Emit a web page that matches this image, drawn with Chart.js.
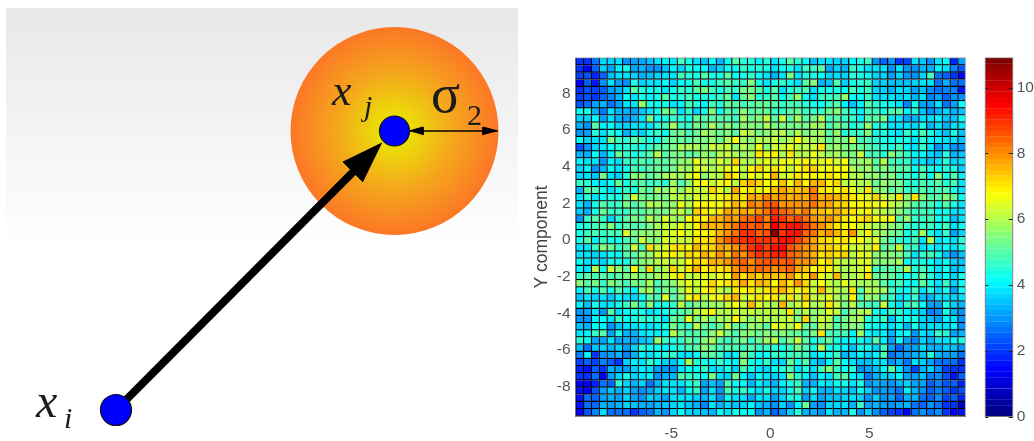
<!DOCTYPE html>
<html><head><meta charset="utf-8">
<style>html,body{margin:0;padding:0;background:#fff;width:1034px;height:441px;overflow:hidden}
canvas{position:absolute;top:0;display:block}</style>
<script src="https://cdn.jsdelivr.net/npm/chart.js@4"></script>
</head><body>
<canvas id="sketch" width="520" height="441" style="left:0"></canvas>
<canvas id="heat" width="450" height="441" style="left:520px"></canvas>
<canvas id="bar" width="59" height="441" style="left:975px"></canvas>
<script>
// ---- heat map values: one list per row, top row first
const row00=[1.9,2.0,2.6,3.6,3.6,3.8,3.0,3.2,3.2,3.5,3.8,4.0,3.9,4.8,4.3,3.9,3.5,4.1,3.3,4.2,5.1,4.5,4.5,4.0,4.5,3.9,4.3,5.0,4.5,4.1,3.5,3.9,3.9,3.6,3.7,4.0,4.4,4.6,2.9,2.5,2.9,2.0,2.2,3.9,3.5,2.9,3.9,4.1,1.8,3.2];
const row01=[2.0,1.4,2.5,3.7,3.2,4.0,4.3,3.2,3.3,2.9,2.9,3.5,4.0,3.6,4.3,4.1,4.1,3.4,3.6,4.1,4.1,4.6,4.3,4.5,4.4,3.9,4.2,4.3,3.9,4.6,4.6,5.0,3.2,3.6,3.4,4.6,4.3,3.9,3.8,3.9,2.9,3.9,3.0,2.9,3.4,3.4,4.0,3.9,2.8,2.3];
const row02=[2.2,2.3,1.8,2.5,3.5,3.8,3.9,3.6,3.4,3.5,3.6,3.9,3.8,4.8,4.5,4.4,5.0,4.3,4.3,5.0,4.2,4.4,4.6,4.2,3.9,3.4,3.9,5.4,3.9,4.3,4.3,4.2,3.6,3.9,3.6,4.5,4.4,4.2,3.7,3.6,3.2,3.7,2.9,3.0,3.6,4.8,2.6,2.4,1.9,1.5];
const row03=[1.4,2.4,1.6,3.0,3.9,3.2,3.0,4.3,3.7,3.9,3.9,4.1,3.6,4.2,4.4,4.8,4.3,4.3,4.7,5.0,4.7,4.7,5.6,4.4,3.9,4.3,4.7,4.1,3.8,5.0,5.5,3.4,3.5,5.0,3.7,4.4,4.5,4.7,3.6,3.7,3.5,3.5,3.5,3.6,3.9,3.9,2.7,3.4,2.6,2.7];
const row04=[1.9,2.3,2.2,2.5,3.1,3.4,3.8,5.1,4.5,4.2,4.4,3.9,4.3,4.6,4.5,5.0,5.3,4.8,4.3,4.9,4.6,5.3,5.3,5.0,4.4,5.0,3.9,4.5,4.7,4.9,3.9,4.3,4.3,4.4,4.2,4.9,4.3,4.6,3.6,3.7,3.4,3.8,3.6,3.2,3.5,3.0,2.7,2.8,2.8,1.6];
const row05=[2.2,2.3,1.9,2.5,2.8,3.3,4.2,3.8,4.3,4.0,4.4,5.0,4.4,4.5,4.9,4.3,4.5,4.3,4.6,5.2,3.9,5.2,5.6,4.5,4.7,5.1,4.1,4.9,5.7,4.2,3.8,4.6,4.6,4.8,5.7,4.2,4.2,4.6,3.8,3.8,3.8,3.6,3.8,3.3,3.8,2.8,3.2,2.4,2.9,3.0];
const row06=[2.3,2.7,3.1,3.3,2.7,3.2,3.9,3.9,5.7,4.4,4.1,4.3,3.9,4.0,4.8,4.5,4.0,4.8,4.5,5.2,5.0,4.8,5.0,5.2,5.2,5.0,4.7,4.8,4.8,4.5,4.4,4.1,4.7,5.0,4.0,3.5,4.0,5.0,4.5,4.4,4.2,3.9,2.8,4.3,3.2,3.1,3.8,2.7,3.2,4.2];
const row07=[4.1,4.4,3.4,2.6,3.8,3.3,3.4,3.1,3.5,3.9,4.3,5.3,5.0,3.8,4.6,3.7,4.4,5.6,4.2,5.0,4.8,5.5,5.0,5.2,5.2,4.7,4.6,5.1,5.2,4.7,4.6,4.7,5.2,5.5,4.8,4.5,4.0,4.8,4.6,4.4,4.8,5.0,4.0,4.5,3.5,2.9,3.3,3.6,3.3,3.5];
const row08=[3.7,3.6,4.2,3.2,3.9,3.4,3.1,3.3,3.9,5.3,4.2,4.4,4.7,4.5,4.4,5.2,5.0,5.0,5.0,5.0,4.7,5.8,5.2,5.6,6.2,5.0,6.2,5.1,5.9,5.0,5.3,5.8,4.9,5.0,4.7,4.6,4.0,5.0,5.0,5.4,3.8,3.9,3.1,3.4,3.8,3.8,4.0,3.5,3.5,4.1];
const row09=[3.4,3.0,5.0,4.0,4.1,3.6,3.6,3.9,3.8,3.9,4.5,4.9,5.9,4.6,4.6,5.3,5.2,5.9,5.2,5.5,5.2,5.6,5.5,5.4,5.8,5.3,5.4,5.4,5.4,5.3,5.9,5.7,4.8,5.3,5.0,4.4,4.6,5.7,4.4,4.5,3.8,3.9,3.9,3.6,4.3,3.4,3.8,3.4,3.8,3.8];
const row10=[3.0,3.2,4.5,3.9,4.5,4.2,3.3,3.8,3.7,4.3,4.6,4.1,5.2,5.3,4.9,5.2,5.8,5.5,5.2,5.5,5.0,6.2,5.8,5.4,5.6,5.8,6.0,5.4,6.0,5.3,5.7,5.9,5.0,5.7,4.5,4.6,4.6,5.6,4.4,4.4,4.0,3.9,4.7,4.1,4.8,4.4,3.9,3.5,4.3,3.5];
const row11=[4.1,3.7,3.9,3.9,5.3,4.6,4.5,5.0,4.9,4.3,4.4,5.0,5.2,5.2,5.0,5.3,5.4,5.7,5.2,5.8,6.8,5.7,5.6,6.0,5.8,6.3,5.7,6.0,6.8,6.0,5.8,5.8,5.2,5.6,5.4,6.2,4.9,4.8,4.5,4.3,4.2,4.3,4.4,3.8,4.5,4.0,4.0,3.9,3.9,3.5];
const row12=[2.3,2.9,3.7,3.8,4.1,4.4,4.5,4.5,4.4,4.6,5.0,5.0,5.3,5.9,5.9,5.9,5.5,6.2,6.0,6.2,5.6,6.0,5.7,6.6,5.6,6.2,6.3,6.6,6.1,6.0,6.3,7.0,5.6,5.7,5.4,5.4,5.2,5.0,4.7,4.5,4.4,4.8,4.0,3.8,4.7,3.8,2.9,3.7,3.0,2.9];
const row13=[3.3,3.4,4.2,3.4,4.0,5.2,4.6,4.3,4.7,5.0,6.1,5.0,5.4,5.3,5.0,5.2,5.7,5.4,6.0,6.2,5.9,5.7,5.8,7.0,6.5,6.9,5.9,7.0,6.1,6.1,6.5,6.1,5.7,5.8,5.6,5.3,6.3,4.9,4.8,4.5,5.5,5.0,4.7,4.0,4.2,3.7,3.5,4.5,3.4,3.5];
const row14=[4.0,3.8,3.9,2.9,4.0,3.8,4.6,4.7,5.1,4.6,5.2,5.0,5.3,5.5,5.7,6.6,6.0,5.9,6.4,6.0,7.2,6.1,5.8,6.2,6.5,6.2,6.6,6.5,6.6,6.9,6.5,6.4,6.8,6.2,6.7,5.6,5.7,5.8,5.0,6.0,4.9,4.7,4.7,3.9,3.8,3.5,3.8,4.5,3.7,3.8];
const row15=[3.6,4.0,3.0,3.4,4.2,3.8,4.4,4.8,4.6,5.0,5.2,5.0,5.4,5.8,5.7,6.4,6.2,5.9,6.2,6.6,6.7,6.0,6.9,7.3,6.6,7.1,6.8,6.2,6.7,7.1,7.2,6.6,6.8,6.7,6.8,6.1,5.6,5.8,5.2,5.5,5.2,5.0,5.1,4.2,4.8,4.3,4.1,4.5,4.3,3.7];
const row16=[3.6,3.9,3.5,5.3,3.9,3.7,4.5,5.5,5.5,5.0,5.3,5.9,6.0,5.7,6.2,6.7,5.6,6.0,6.1,7.2,6.9,6.1,6.7,6.4,6.8,7.6,6.2,6.6,7.1,6.8,6.9,6.8,7.1,6.8,6.8,5.8,6.0,5.6,5.7,5.3,5.6,4.9,4.6,4.3,5.0,4.2,5.5,4.3,5.0,4.0];
const row17=[4.7,4.5,4.0,3.9,4.1,5.2,4.3,4.9,5.0,4.6,4.9,4.5,5.8,4.9,5.5,6.6,6.8,6.2,6.6,6.9,6.1,7.3,7.6,7.2,6.7,6.9,7.4,6.8,7.5,6.9,7.5,7.5,6.9,7.3,6.0,6.3,5.9,6.0,5.2,5.7,5.3,5.4,4.7,4.5,4.8,4.7,5.0,4.5,4.8,3.9];
const row18=[3.3,5.0,4.9,4.4,3.9,4.3,4.7,4.4,5.3,5.0,5.9,5.6,6.1,5.5,6.3,6.2,6.2,7.2,6.5,6.1,7.8,6.8,7.0,6.5,6.7,7.4,7.7,7.4,7.4,7.5,8.1,7.0,6.9,6.7,7.0,6.6,6.1,7.0,5.6,5.5,5.0,5.3,4.6,4.7,5.0,4.6,4.8,5.0,4.3,3.9];
const row19=[3.9,4.5,3.9,4.2,4.5,4.3,5.0,6.3,5.4,5.2,5.3,5.3,6.0,6.1,5.8,6.4,6.2,6.5,6.8,7.1,7.2,7.0,7.8,7.5,8.1,7.8,7.9,7.6,7.7,7.5,8.2,7.5,7.7,7.6,7.3,7.1,6.8,6.4,7.2,6.2,6.0,7.0,5.5,7.1,5.6,5.0,5.0,5.6,5.2,4.1];
const row20=[3.9,3.4,4.3,5.1,4.7,4.7,5.4,4.9,5.3,6.1,5.9,5.6,5.7,6.5,6.0,6.7,6.9,6.8,6.8,7.0,7.6,7.3,8.3,7.9,8.4,8.6,8.0,8.0,8.0,7.9,8.2,7.8,7.8,7.3,7.2,6.8,6.9,6.9,6.6,6.8,6.3,5.9,5.5,5.0,4.8,4.9,4.3,5.0,4.4,3.9];
const row21=[3.6,3.3,4.4,5.2,4.6,4.6,4.7,5.0,5.0,5.3,5.4,5.3,5.9,6.2,5.5,7.2,7.0,6.5,7.1,7.7,7.5,7.8,7.5,7.9,8.3,9.0,8.5,8.2,7.8,8.2,7.6,7.4,7.2,7.5,7.3,7.0,6.6,6.9,6.3,6.0,5.9,5.5,5.0,4.6,4.8,4.7,4.1,4.4,3.9,3.8];
const row22=[2.9,4.7,5.0,4.7,3.7,4.5,5.0,5.4,5.2,6.1,5.6,6.4,5.9,5.7,6.8,7.0,6.9,7.5,7.6,7.9,7.7,8.3,8.5,8.8,8.1,9.1,9.0,8.5,8.7,8.3,7.9,7.6,8.0,7.4,7.1,6.8,7.0,7.2,6.7,6.6,6.9,5.0,5.7,4.6,4.7,4.8,4.2,4.4,3.5,3.9];
const row23=[4.3,4.5,4.8,5.0,5.5,4.6,5.0,4.9,5.1,5.4,5.9,6.2,6.0,6.6,6.3,6.9,7.5,7.6,7.5,8.0,8.2,8.8,8.5,8.6,8.3,9.6,9.0,9.2,9.2,8.7,8.3,7.9,7.4,7.1,6.7,6.8,6.4,6.2,5.9,5.8,5.5,5.3,4.7,4.5,4.7,4.7,4.3,4.8,3.8,4.1];
const row24=[4.4,4.6,4.8,4.6,4.8,4.9,6.4,5.4,5.5,5.6,5.7,6.2,6.4,6.7,6.2,6.9,6.8,7.0,7.6,7.9,8.2,9.0,9.0,8.5,8.6,10.9,9.0,9.2,9.2,8.5,8.3,7.6,7.9,7.6,7.1,8.0,6.2,6.9,5.9,5.7,5.3,5.2,4.3,4.6,5.8,4.3,3.9,4.6,3.2,3.7];
const row25=[4.3,5.1,4.0,4.6,4.4,4.4,4.8,5.1,6.2,5.6,5.5,6.4,6.3,6.2,6.3,7.0,7.0,7.2,7.9,8.4,8.7,9.0,9.1,8.9,8.9,9.0,9.3,9.2,8.8,8.2,7.8,7.3,7.1,6.9,7.0,6.8,6.7,6.2,6.4,5.3,4.9,4.7,4.4,4.9,3.9,6.0,3.9,4.2,3.8,4.5];
const row26=[3.8,3.9,4.6,5.5,5.2,4.6,5.0,6.2,4.9,7.0,6.2,6.4,7.1,7.0,6.7,7.5,7.0,7.2,7.8,7.6,8.0,8.5,8.9,9.3,8.7,9.3,9.5,8.6,8.3,7.9,7.7,7.3,7.2,7.0,6.9,6.2,6.4,6.2,6.9,5.0,5.3,6.2,4.6,4.7,3.9,4.2,3.8,4.1,3.9,4.4];
const row27=[3.8,3.9,3.7,3.8,4.2,4.2,5.0,5.1,5.6,5.7,6.4,6.5,6.9,6.4,7.2,7.0,7.5,7.3,7.9,7.4,8.3,8.0,8.6,9.0,8.7,9.1,9.1,8.5,8.3,8.0,7.5,7.0,7.2,7.0,7.2,6.1,6.5,6.4,5.5,5.6,5.6,5.3,4.8,3.9,4.6,4.8,4.3,3.5,3.0,3.5];
const row28=[4.2,3.8,3.9,3.6,4.3,4.4,4.4,5.1,5.5,5.7,6.1,6.2,6.0,6.2,6.8,7.2,7.0,7.5,7.6,8.0,8.2,8.5,8.0,8.4,8.6,8.6,8.4,8.6,8.0,7.9,7.7,6.8,7.2,6.2,6.0,6.1,6.4,6.4,5.5,5.5,5.6,5.9,4.2,4.4,4.4,4.1,3.8,4.2,3.6,3.5];
const row29=[4.0,3.8,6.0,4.3,6.2,5.6,5.0,6.9,5.4,7.2,5.5,6.1,7.3,6.2,7.1,7.5,6.9,7.3,7.0,7.3,8.0,8.3,8.1,8.5,8.3,8.0,8.2,8.5,7.8,7.4,6.8,7.0,6.9,6.3,5.9,6.1,6.2,6.8,4.6,5.0,5.1,5.0,6.1,4.5,4.8,4.3,3.9,4.3,3.5,3.7];
const row30=[4.6,5.0,4.8,5.1,4.8,5.1,5.3,5.7,5.3,5.5,5.9,6.1,6.5,7.0,6.0,6.2,6.5,6.3,6.5,6.6,8.0,7.1,7.5,7.3,7.6,7.4,7.4,7.9,7.1,7.0,7.9,6.5,6.3,7.5,5.9,5.8,6.2,7.0,5.2,5.3,5.2,4.6,4.2,4.5,5.2,4.5,3.8,4.2,3.7,4.4];
const row31=[5.5,5.0,5.3,4.6,5.5,5.2,4.9,5.4,5.2,5.8,4.8,5.3,5.5,6.3,6.5,6.3,6.5,7.3,6.8,7.0,7.3,7.7,7.0,7.6,7.4,6.8,7.5,7.0,8.0,7.2,6.2,6.8,6.2,5.9,6.6,6.0,5.8,5.8,5.7,5.0,4.5,4.8,4.1,4.2,5.2,4.3,3.8,4.6,3.7,4.2];
const row32=[4.0,4.8,4.4,5.0,4.4,5.0,4.5,4.0,5.5,5.8,4.9,5.4,5.2,5.8,6.5,6.0,6.8,7.0,6.2,5.9,7.0,6.8,7.0,6.4,7.0,7.2,7.6,7.1,6.5,7.1,6.3,7.5,6.2,6.0,5.9,7.0,5.1,6.0,5.9,5.9,4.8,4.4,4.1,4.8,3.8,4.5,3.7,4.4,3.2,4.2];
const row33=[3.5,3.8,3.6,3.9,3.5,4.0,3.9,3.7,4.2,5.0,4.9,6.4,5.0,5.6,6.5,7.0,6.1,6.5,6.7,7.3,7.5,6.2,6.5,7.0,6.8,7.1,6.2,7.1,6.2,7.3,6.3,6.3,6.5,5.9,5.7,6.9,4.9,5.7,5.5,4.8,4.6,3.9,4.0,4.6,3.5,3.3,3.9,3.9,3.6,3.9];
const row34=[4.0,3.5,4.3,3.9,3.8,4.3,4.7,5.3,4.5,5.5,4.3,4.4,4.7,6.1,5.0,5.3,5.6,5.7,5.7,6.3,6.7,6.3,7.5,6.4,6.0,5.9,7.5,5.9,6.2,6.9,5.8,6.1,7.0,6.2,5.3,6.0,5.0,4.9,4.7,6.3,4.3,3.9,4.6,4.8,4.2,3.1,3.2,4.3,3.6,3.4];
const row35=[2.9,3.2,3.8,3.0,5.0,3.8,4.1,4.3,4.3,3.9,4.0,4.4,4.6,5.1,5.2,6.1,6.4,6.9,5.9,6.0,6.2,6.1,6.2,5.9,6.1,6.1,5.9,7.0,5.6,6.0,5.6,5.9,6.4,6.2,4.8,5.5,5.8,6.0,4.3,4.0,4.6,4.5,4.0,3.9,3.6,2.8,3.0,4.3,3.3,2.9];
const row36=[2.9,2.9,4.0,4.2,3.8,4.6,4.2,4.3,4.7,4.5,4.5,3.9,5.2,5.0,6.5,5.3,5.8,5.3,5.9,5.8,6.9,6.1,5.5,6.0,5.8,5.8,6.0,6.2,5.4,7.2,5.5,6.2,6.0,4.9,5.4,5.7,5.8,4.5,4.3,4.7,3.5,4.3,4.2,4.4,3.7,3.5,3.2,4.0,3.9,3.0];
const row37=[3.5,3.3,4.1,4.0,3.0,3.5,3.9,3.8,4.0,3.9,4.0,4.3,5.4,4.8,4.7,6.0,5.2,4.9,5.2,6.0,5.2,5.0,5.7,5.5,5.0,6.5,6.2,5.9,6.8,5.4,5.0,6.0,5.7,5.1,5.3,5.5,5.3,4.3,4.2,4.0,3.9,4.1,3.3,4.3,3.6,3.9,3.9,3.8,4.0,3.0];
const row38=[3.9,4.0,4.6,5.0,3.2,4.3,3.4,3.4,3.9,4.0,4.0,4.2,6.0,5.2,4.9,5.0,5.0,5.6,6.3,5.3,4.8,5.5,5.5,5.2,5.5,5.3,5.5,5.2,5.2,4.8,5.3,7.0,4.8,4.8,4.9,4.0,5.7,4.2,3.9,4.0,3.4,4.0,4.2,3.0,3.9,3.6,4.6,4.5,3.2,3.4];
const row39=[4.5,4.1,3.2,3.1,3.9,3.2,3.4,3.1,3.5,3.7,5.7,4.7,4.5,4.7,5.2,4.9,5.5,5.9,5.0,4.6,5.0,5.4,4.6,5.2,5.7,6.1,4.8,5.3,6.2,5.1,4.3,4.6,5.2,4.4,4.0,4.2,4.3,3.8,5.0,4.0,3.2,4.1,3.2,2.8,3.7,3.3,3.8,3.9,4.0,4.4];
const row40=[3.5,2.7,3.5,3.6,3.4,3.6,3.2,3.6,4.5,4.2,4.1,4.0,4.3,4.5,4.8,5.0,5.6,5.2,4.7,5.0,4.8,4.7,5.1,4.6,4.7,4.5,4.3,4.7,5.4,4.9,4.4,6.1,4.3,4.3,4.0,3.5,4.4,4.2,3.7,4.6,3.1,2.4,3.1,3.1,3.8,3.4,3.4,3.7,3.5,3.0];
const row41=[2.8,4.0,1.9,2.9,3.1,3.4,2.8,3.3,4.0,3.9,4.2,4.5,4.6,3.8,3.9,4.2,5.0,5.0,4.7,3.9,4.0,5.3,4.6,4.2,4.2,4.6,4.5,4.7,4.9,4.6,3.9,4.2,4.4,4.6,3.4,3.7,4.0,3.7,4.0,4.9,2.7,2.9,3.0,3.3,3.5,4.5,3.4,3.2,3.2,2.6];
const row42=[2.1,2.4,2.2,2.8,2.5,1.9,3.6,4.0,3.9,4.6,4.1,3.7,3.5,4.0,5.8,4.5,4.4,4.1,4.6,4.2,4.0,5.5,4.3,4.1,4.6,3.9,3.7,5.2,4.4,5.0,3.6,3.4,4.0,5.0,4.1,3.8,3.5,3.5,3.8,3.9,2.9,3.4,2.7,3.8,3.7,3.1,2.7,2.6,2.6,2.0];
const row43=[1.8,1.7,2.4,2.0,3.4,3.1,3.1,3.6,4.0,3.8,3.2,3.0,2.9,3.9,4.2,4.2,4.6,3.8,3.9,4.3,3.6,4.8,4.3,3.9,3.6,4.2,4.5,4.9,3.8,4.5,3.9,4.8,5.6,4.6,4.2,4.5,2.9,3.1,3.5,4.0,5.0,3.9,3.0,2.2,3.3,3.6,2.9,2.2,2.0,1.9];
const row44=[2.0,2.0,2.7,1.3,3.1,3.6,4.4,3.6,3.9,4.0,3.0,3.4,3.4,5.0,4.7,4.5,4.2,5.3,3.8,3.6,5.4,4.0,3.5,4.2,3.8,3.6,3.8,5.5,4.5,4.0,3.5,4.0,3.9,4.8,5.0,4.0,3.8,2.6,3.3,3.6,3.7,4.1,3.2,3.2,3.5,2.8,2.9,2.3,1.7,2.4];
const row45=[1.4,1.3,1.8,2.6,2.5,4.5,3.6,3.3,3.7,2.7,3.3,3.9,3.9,3.8,4.3,4.6,3.2,3.5,3.2,4.9,4.2,4.2,3.3,4.0,3.6,3.4,4.0,4.4,4.7,3.3,3.4,4.0,3.8,4.2,4.3,3.9,4.3,2.9,3.3,3.2,3.0,3.3,3.6,3.1,3.2,2.4,2.8,2.3,2.4,1.8];
const row46=[1.7,1.4,2.3,3.2,3.5,3.3,3.7,3.2,3.0,3.2,3.6,3.8,3.9,3.4,4.2,4.7,3.2,3.9,3.0,4.8,4.4,4.6,4.2,3.9,4.3,3.6,3.7,4.2,4.8,3.7,4.2,3.4,3.4,3.9,3.7,3.5,4.2,3.7,2.9,3.2,3.0,2.7,4.0,3.4,2.9,2.5,2.8,2.4,1.9,2.3];
const row47=[1.6,2.7,2.4,3.2,3.3,3.1,3.6,3.1,2.9,3.6,3.5,3.2,3.8,3.9,3.8,3.7,3.4,3.8,2.9,4.2,3.9,3.9,3.2,3.8,3.8,3.2,3.6,4.4,4.4,3.2,3.9,3.2,3.5,3.5,3.7,3.9,3.6,3.0,3.6,2.9,3.2,2.4,3.4,3.4,2.7,2.4,2.9,2.2,2.4,1.8];
const row48=[1.6,2.6,2.5,3.4,3.1,3.3,3.6,3.5,3.3,3.2,3.3,3.5,3.6,3.8,3.5,3.3,2.8,3.9,3.3,3.7,3.5,3.7,4.0,3.5,3.4,2.9,3.7,3.0,4.0,5.2,3.2,3.0,3.6,3.6,3.9,3.4,4.6,3.2,3.3,3.1,3.0,3.1,3.4,2.7,2.5,3.0,2.7,2.0,1.9,0.8];
const row49=[1.5,2.3,2.8,3.8,2.6,2.7,2.7,2.0,2.4,2.6,3.3,2.9,3.7,4.1,3.6,3.7,3.5,3.3,4.1,3.9,4.3,4.1,4.1,2.9,3.3,2.4,2.9,3.6,4.5,3.3,3.4,3.0,3.9,3.3,3.4,4.4,3.0,3.6,3.0,2.5,2.1,2.0,1.2,2.6,3.0,2.6,3.0,2.0,1.4,1.7];
const gridRows=[row00,row01,row02,row03,row04,row05,row06,row07,row08,row09,row10,row11,row12,row13,row14,row15,row16,row17,row18,row19,row20,row21,row22,row23,row24,row25,row26,row27,row28,row29,row30,row31,row32,row33,row34,row35,row36,row37,row38,row39,row40,row41,row42,row43,row44,row45,row46,row47,row48,row49];

// ---- axes of the heat map and colour bar
const xRange=[-9.83,9.85];
const yRange=[-9.6,9.93];
const xTicks=[-5,0,5];
const yTicks=[-8,-6,-4,-2,0,2,4,6,8];
const barTicks=[0,2,4,6,8,10];
const barMax=10.9;
const barLevels=64;

// ---- schematic on the left, in its own units
const pointI=[{x:116,y:410}];
const pointJ=[{x:394.5,y:131}];
const bigDisc=[{x:394.5,y:131}];
const shaft=[{x:116,y:410},{x:354,y:171}];
const head=[{x:382,y:143},{x:343,y:162},{x:363,y:182}];
const sigmaLine=[{x:409,y:131},{x:497,y:131}];
const sigmaHeadL=[{x:409,y:131},{x:423,y:127},{x:423,y:135}];
const sigmaHeadR=[{x:498,y:131},{x:483,y:127},{x:483,y:135}];
const schematicText=[
 {t:'x',x:332,y:105,f:'italic 44px "Liberation Serif"'},
 {t:'j',x:364,y:116,f:'italic 30px "Liberation Serif"'},
 {t:'σ',x:431,y:112,f:'54px "Liberation Serif"'},
 {t:'2',x:467,y:125,f:'30px "Liberation Serif"'},
 {t:'x',x:36,y:417,f:'italic 48px "Liberation Serif"'},
 {t:'i',x:64,y:428,f:'italic 30px "Liberation Serif"'}
];

function jet(v){
  const lvl=Math.min(barLevels-1,Math.max(0,Math.floor(v/barMax*barLevels)));
  const t=lvl/(barLevels-1);
  const c=a=>Math.round(255*Math.min(1,Math.max(0,1.5-Math.abs(4*t-a))));
  return `rgb(${c(3)},${c(2)},${c(1)})`;
}
Chart.defaults.animation=false;
Chart.defaults.responsive=false;
Chart.defaults.font.family='"Liberation Sans"';

// ---- left schematic
const line=(data,width)=>({data,showLine:true,borderColor:'#000',borderWidth:width,pointRadius:0,tension:0,fill:false});
const shape=(data)=>({data,showLine:true,borderColor:'#000',backgroundColor:'#000',borderWidth:1,pointRadius:0,tension:0,fill:'shape'});
const dot=(data,r)=>({data,showLine:false,pointRadius:r,pointBackgroundColor:'#0000ff',pointBorderColor:'#111',pointBorderWidth:1.2});
new Chart(document.getElementById('sketch'),{
  type:'scatter',
  data:{datasets:[
    dot(pointI,15.5),dot(pointJ,15),
    shape(head),line(shaft,8),
    shape(sigmaHeadL),shape(sigmaHeadR),line(sigmaLine,1.4),
    {data:bigDisc,showLine:false,pointRadius:104,pointBorderWidth:0,clip:false,
     pointBackgroundColor:c=>{
       const p=c.chart.scales, x=p.x.getPixelForValue(bigDisc[0].x), y=p.y.getPixelForValue(bigDisc[0].y);
       if(!isFinite(x)||!isFinite(y)) return '#f4a81c';
       const g=c.chart.ctx.createRadialGradient(x,y,0,x,y,104);
       g.addColorStop(0,'#e8ec00');g.addColorStop(0.2,'#ecd80a');g.addColorStop(0.55,'#f4a81c');g.addColorStop(1,'#fc7726');
       return g;
     }}
  ]},
  options:{layout:{padding:0,autoPadding:false},
    plugins:{legend:{display:false},tooltip:{enabled:false}},
    scales:{x:{display:false,min:0,max:520},y:{display:false,min:0,max:441,reverse:true}}},
  plugins:[{id:'panel',
    beforeDatasetsDraw(ch){
      const {ctx,scales:{x,y}}=ch;
      const x0=x.getPixelForValue(6),x1=x.getPixelForValue(518),y0=y.getPixelForValue(8),y1=y.getPixelForValue(240);
      const g=ctx.createLinearGradient(0,y0,0,y1);
      g.addColorStop(0,'#e8e8e8');g.addColorStop(1,'#fefefe');
      ctx.save();ctx.fillStyle=g;ctx.fillRect(x0,y0,x1-x0,y1-y0);ctx.restore();
    },
    afterDatasetsDraw(ch){
      const {ctx,scales:{x,y}}=ch;
      ctx.save();ctx.fillStyle='#1c1c1c';ctx.textBaseline='alphabetic';ctx.textAlign='left';
      schematicText.forEach(s=>{ctx.font=s.f;ctx.fillText(s.t,x.getPixelForValue(s.x),y.getPixelForValue(s.y));});
      ctx.restore();
    }}]
});

// ---- heat map: one floating-bar dataset per row
const nCols=gridRows[0].length,nRows=gridRows.length;
const dx=(xRange[1]-xRange[0])/nCols,dy=(yRange[1]-yRange[0])/nRows;
const heatSets=gridRows.map((row,r)=>({
  data:row.map((v,c)=>({x:xRange[0]+(c+0.5)*dx,y:[yRange[1]-(r+1)*dy,yRange[1]-r*dy]})),
  backgroundColor:row.map(jet),
  borderColor:'#000',
  borderWidth:{left:1.25,top:0,right:0,bottom:1.25},
  borderSkipped:false,
  categoryPercentage:1,barPercentage:1
}));
const tickFont={size:15.5};
new Chart(document.getElementById('heat'),{
  type:'bar',
  data:{datasets:heatSets},
  options:{
    layout:{padding:{top:58,right:4.7,bottom:0,left:0}},
    plugins:{legend:{display:false},tooltip:{enabled:false}},
    scales:{
      x:{type:'linear',stacked:true,offset:false,min:xRange[0],max:xRange[1],
        grid:{display:false,drawTicks:false,offset:false},border:{display:true,color:'#8a8a8a'},
        afterFit(s){s.height=25;},
        afterBuildTicks(s){s.ticks=xTicks.map(value=>({value}));},
        ticks:{color:'#555',font:tickFont,padding:8,maxRotation:0,autoSkip:false}},
      y:{type:'linear',stacked:false,min:yRange[0],max:yRange[1],
        grid:{display:false,drawTicks:false},border:{display:true,color:'#8a8a8a'},
        afterFit(s){s.width=55.5;},
        afterBuildTicks(s){s.ticks=yTicks.map(value=>({value}));},
        title:{display:true,text:'Y component',color:'#444',font:{size:17.5},padding:{top:12,bottom:0}},
        ticks:{color:'#555',font:tickFont,padding:5,autoSkip:false}}
    }},
  plugins:[{id:'frame',afterDatasetsDraw(ch){
    const {ctx,chartArea:a}=ch;
    ctx.save();ctx.strokeStyle='rgba(120,120,120,.7)';ctx.lineWidth=1;
    ctx.strokeRect(a.left,a.top,a.right-a.left,a.bottom-a.top);ctx.restore();
  }}]
});

// ---- colour bar
const levelCentres=Array.from({length:barLevels},(_,i)=>(i+0.5)*barMax/barLevels);
new Chart(document.getElementById('bar'),{
  type:'bar',
  data:{datasets:[{
    data:levelCentres.map(y=>({x:1,y})),
    backgroundColor:levelCentres.map(jet),
    borderWidth:0,categoryPercentage:1,barPercentage:1.04
  }]},
  options:{indexAxis:'y',
    layout:{padding:{top:58,right:0,bottom:24.5,left:10.3}},
    plugins:{legend:{display:false},tooltip:{enabled:false}},
    scales:{
      x:{display:false,min:0,max:1},
      y:{type:'linear',position:'right',offset:false,min:0,max:barMax,
        grid:{display:false,drawTicks:false,offset:false},border:{display:false},
        afterFit(s){s.width=21.3;},
        afterBuildTicks(s){s.ticks=barTicks.map(value=>({value}));},
        ticks:{color:'#555',font:tickFont,padding:4,autoSkip:false}}
    }},
  plugins:[{id:'barFrame',afterDatasetsDraw(ch){
    const {ctx,chartArea:a,scales:{y}}=ch;
    ctx.save();ctx.strokeStyle='rgba(110,90,90,.75)';ctx.lineWidth=1;
    ctx.strokeRect(a.left,a.top,a.right-a.left,a.bottom-a.top);
    ctx.strokeStyle='#222';
    barTicks.forEach(t=>{const p=Math.round(y.getPixelForValue(t))+.5;
      ctx.beginPath();ctx.moveTo(a.left,p);ctx.lineTo(a.left+3,p);ctx.moveTo(a.right-4,p);ctx.lineTo(a.right,p);ctx.stroke();});
    ctx.restore();
  }}]
});
</script>
</body></html>
